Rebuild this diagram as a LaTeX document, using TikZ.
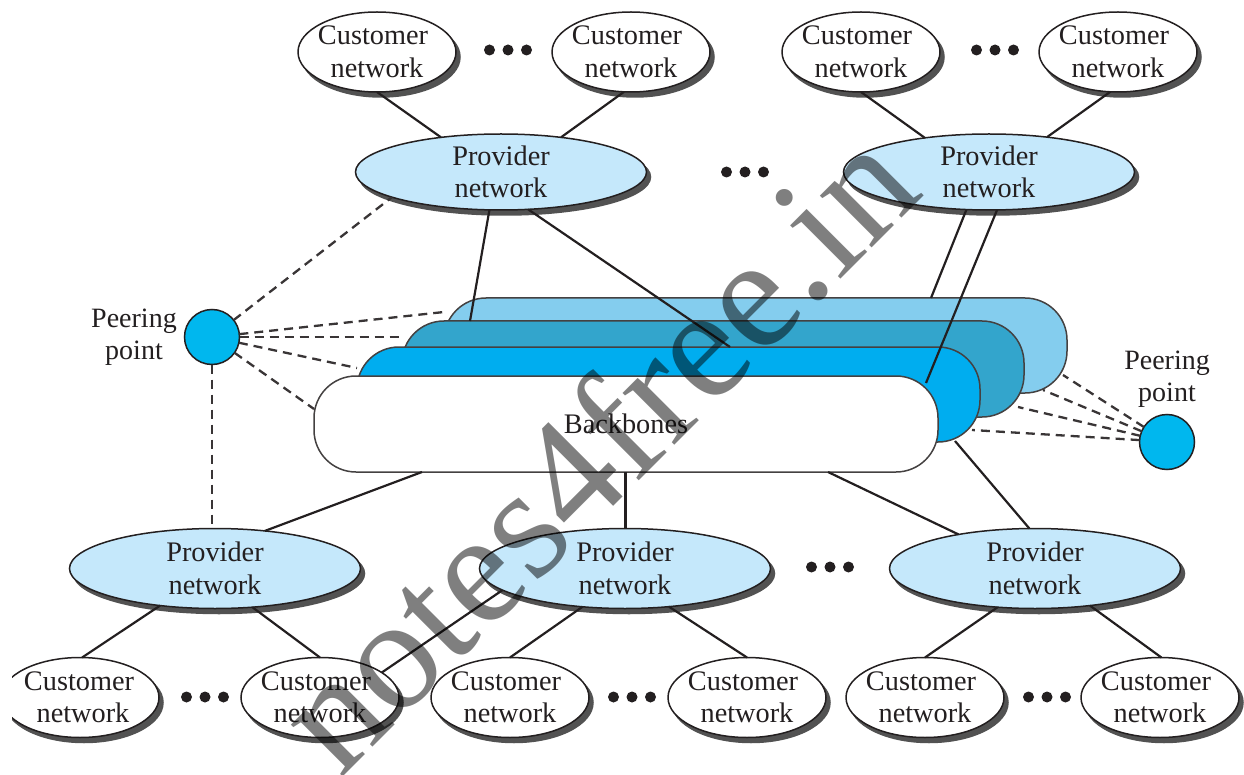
\documentclass[tikz,border=0pt]{standalone}
\usepackage{fontspec}
\setmainfont{Liberation Serif}
\usetikzlibrary{shapes.geometric,shadows}
\definecolor{ink}{HTML}{231F20}
\definecolor{provfill}{HTML}{C5E8FB}
\definecolor{bandA}{HTML}{84CDEE}
\definecolor{bandB}{HTML}{33A5CC}
\definecolor{bandC}{HTML}{00ADEF}
\definecolor{peerfill}{HTML}{00B7EE}
\newcommand{\custtext}{Customer\hspace*{8pt}\\network}
\tikzset{
  netbase/.style={ellipse,draw=ink,line width=1.5pt,inner xsep=-8pt,inner ysep=-6pt,outer sep=0pt,align=center,
    text=ink,font=\fontsize{28.3}{32.5}\selectfont,
    copy shadow={shadow xshift=4pt,shadow yshift=-5pt,fill=black!68,draw=black!68}},
  customer/.style={netbase,fill=white,minimum width=158pt,minimum height=80pt},
  provider/.style={netbase,fill=provfill,minimum width=291pt,minimum height=76pt},
  band/.style={rectangle,rounded corners=42pt,draw=ink!85,line width=1.5pt,inner sep=0pt,outer sep=0pt,
    minimum width=623pt,minimum height=95pt,text=ink,font=\fontsize{28.3}{32.5}\selectfont},
  peer/.style={circle,draw=ink,line width=1.5pt,fill=peerfill,minimum size=55pt,inner sep=0pt,outer sep=0pt},
  lbl/.style={align=center,text=ink,inner sep=0pt,font=\fontsize{28}{32}\selectfont},
  link/.style={draw=ink,line width=2.2pt},
  peerlink/.style={draw=ink!90,line width=2.3pt,dash pattern=on 9pt off 6pt},
  dotmark/.style={fill=ink},
  stamp/.style={text=black,text opacity=.5,inner sep=0pt,anchor=base west,rotate=45,
    font=\fontsize{159.5}{160}\selectfont}
}
\begin{document}
\begin{tikzpicture}[x=1pt,y=-1pt]
\useasboundingbox (0,0) rectangle (1244,775);
% backbones
\node[band,fill=bandA] (La) at (755.5,345.5) {};
\node[band,fill=bandB,minimum width=622pt,minimum height=96pt] (Lb) at (713,369) {};
\node[band,fill=bandC] (Lc) at (668.5,394.5) {};
\node[band,fill=white,minimum width=624pt,minimum height=96pt] (Bk) at (626,424) {\raisebox{1pt}{Backbones}};
% networks
\node[customer] (ct1) at (377,52) {\custtext};
\node[customer] (ct2) at (631,52) {\custtext};
\node[customer] (ct3) at (861,52) {\custtext};
\node[customer] (ct4) at (1118,52) {\custtext};
\node[provider] (pt1) at (501,172) {Provider\\network};
\node[provider] (pt2) at (989,172) {Provider\\network};
\node[provider,minimum height=80pt] (pb1) at (215,568.5) {Provider\\network};
\node[provider,minimum height=80pt] (pb2) at (625,568.5) {Provider\\network};
\node[provider,minimum height=80pt] (pb3) at (1035,568.5) {Provider\\network};
\node[customer] (cb1) at (80,697.5) {Customer\hspace*{2pt}\\\hspace*{6pt}network};
\node[customer] (cb2) at (320,697.5) {\custtext};
\node[customer] (cb3) at (510,697.5) {\custtext};
\node[customer] (cb4) at (747,697.5) {\custtext};
\node[customer] (cb5) at (925,697.5) {\custtext};
\node[customer] (cb6) at (1160,697.5) {\custtext};
\fill[white] (0,640) rectangle (12,760);
% peering points
\node[peer] (pl) at (212,337) {};
\node[peer] (pr) at (1167,442) {};
\node[lbl] (pll) at (134,337) {Peering\\point};
\node[lbl] (prl) at (1167,379) {Peering\\point};
% customer links, top
\draw[link] (ct1.-90) -- (pt1.150);
\draw[link] (ct2.-100) -- (pt1.30);
\draw[link] (ct3.-90) -- (pt2.152);
\draw[link] (ct4.-101) -- (pt2.31);
% provider to backbones
\draw[link] (pt1.-107.5) -- ([xshift=68pt]Lb.north west);
\draw[link] (pt1.-54) -- ([xshift=373pt]Lc.north west);
\draw[link] (pt2.-121.5) -- ([xshift=487pt]La.north west);
\draw[link] (pt2.-78) -- ([xshift=612pt,yshift=-7pt]Bk.north west);
\draw[link] ([xshift=108pt]Bk.south west) -- (pb1.37);
\draw[link,line width=3pt] ([xshift=-1pt]Bk.south) -- (pb2.north);
\draw[link] ([xshift=514pt]Bk.south west) -- (pb3.156);
\draw[link] ([xshift=-25pt,yshift=1pt]Lc.south east) -- (pb3.98.5);
\draw[link] (pb2.-170.6) -- (cb2.22.2);
% customer links, bottom
\draw[link] (pb1.-146) -- (cb1.87);
\draw[link] (pb1.-46) -- (cb2.north);
\draw[link] (pb2.-138) -- (cb3.north);
\draw[link] (pb2.-41.5) -- (cb4.north);
\draw[link] (pb3.-134.5) -- (cb5.north);
\draw[link] (pb3.-34) -- (cb6.88);
% peering links
\draw[peerlink] (pl.38.7) -- (pt1.-167);
\draw[peerlink] (pl.6) -- ([yshift=-14pt]La.north west);
\draw[peerlink] (pl.0) -- ([yshift=-16pt]Lb.north west);
\draw[peerlink] (pl.-12) -- ([yshift=-21pt]Lc.north west);
\draw[peerlink] (pl.-35) -- ([yshift=-33pt]Bk.north west);
\draw[peerlink] (pl.-90) -- (pb1.north -| pl.south);
\draw[peerlink] (pr.147) -- ([xshift=-4pt,yshift=18pt]La.south east);
\draw[peerlink] (pr.157) -- ([xshift=-24pt,yshift=3pt]La.south east);
\draw[peerlink] (pr.167) -- ([xshift=-6pt,yshift=10pt]Lb.south east);
\draw[peerlink] (pr.176.5) -- ([xshift=-8pt,yshift=12pt]Lc.south east);
% ellipsis dots
\foreach \cx/\cy in {508/50,995/50,745/172,830/567,205/697,632/697,1047/697}
  \foreach \dd in {-18.5,0,18.5}
    \fill[dotmark] (\cx+\dd,\cy) circle (5.5pt);
% watermark
\node[stamp] (wm) at (340,780) {notes4free.in};
\end{tikzpicture}
\end{document}
